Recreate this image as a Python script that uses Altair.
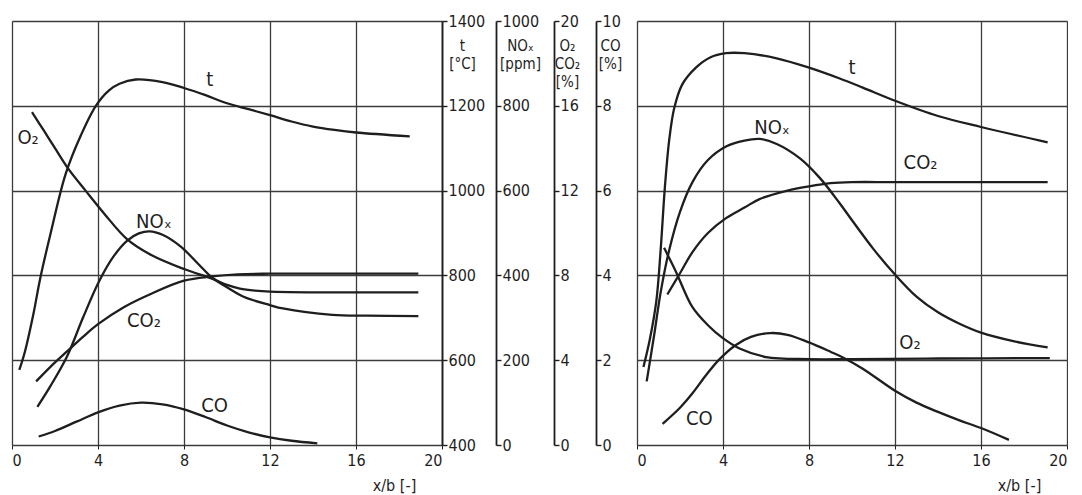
import altair as alt
import pandas as pd

# ---------------- data ----------------
# left panel
L_T_X = [0.34, 0.6, 1.0, 1.3, 1.8, 2.5, 3.2, 3.9, 4.5, 5.0, 5.75, 7.0, 8.0, 9.0, 10.0, 11.0, 12.0, 13.0, 14.0, 15.0, 16.0, 18.5]
L_T = [577, 620, 710, 790, 900, 1040, 1130, 1200, 1236, 1252, 1262, 1256, 1242, 1225, 1206, 1192, 1178, 1163, 1151, 1143, 1137, 1128]

L_O2_X = [0.93, 1.5, 2.0, 2.64, 3.42, 4.3, 5.36, 6.5, 8.0, 9.3, 10.0, 10.6, 11.3, 12.0, 14.0, 16.0, 18.9]
L_O2 = [15.7, 14.8, 14.0, 13.0, 12.0, 10.9, 9.7, 8.95, 8.3, 7.85, 7.55, 7.38, 7.28, 7.23, 7.2, 7.2, 7.2]

L_NOX_X = [1.18, 1.8, 2.57, 3.3, 4.04, 4.7, 5.36, 5.9, 6.4, 7.0, 7.85, 8.7, 9.3, 10.0, 10.8, 12.0, 12.6, 14.9, 16.5, 18.9]
L_NOX = [90, 140, 210, 300, 385, 443, 482, 499, 504, 496, 468, 425, 395, 372, 349, 330, 322, 307, 305, 304]

L_CO2_X = [1.12, 1.8, 2.6, 3.3, 4.0, 5.2, 6.4, 8.0, 9.3, 10.5, 12.0, 18.9]
L_CO2 = [3.0, 3.7, 4.45, 5.1, 5.7, 6.5, 7.1, 7.75, 7.95, 8.05, 8.08, 8.08]

L_CO_X = [1.24, 2.0, 3.0, 4.0, 5.0, 6.0, 7.0, 8.0, 9.0, 10.0, 11.0, 12.0, 13.0, 14.2]
L_CO = [0.2, 0.33, 0.55, 0.77, 0.93, 1.0, 0.96, 0.84, 0.66, 0.46, 0.3, 0.18, 0.1, 0.04]

# right panel
R_T_X = [0.3, 0.6, 0.9, 1.1, 1.3, 1.5, 1.73, 2.1, 2.74, 3.4, 4.14, 5.0, 6.5, 8.0, 9.4, 10.5, 12.0, 14.0, 16.0, 19.1]
R_T = [584, 650, 740, 860, 1010, 1120, 1194, 1250, 1290, 1314, 1324, 1324, 1312, 1290, 1265, 1243, 1212, 1176, 1150, 1114]

R_NOX_X = [0.45, 0.8, 1.1, 1.48, 2.0, 2.58, 3.3, 4.14, 5.0, 5.7, 6.5, 7.58, 8.5, 9.4, 10.0, 11.0, 12.0, 13.0, 14.0, 15.0, 16.0, 17.5, 19.1]
R_NOX = [150, 260, 360, 456, 550, 620, 672, 704, 718, 722, 710, 676, 630, 572, 530, 462, 402, 350, 313, 286, 265, 245, 230]

R_CO2_X = [1.41, 2.0, 2.58, 3.3, 4.14, 5.0, 5.7, 7.0, 8.0, 9.0, 10.0, 12.0, 19.1]
R_CO2 = [7.1, 8.1, 9.1, 10.0, 10.7, 11.2, 11.6, 12.0, 12.2, 12.35, 12.4, 12.4, 12.4]

R_O2_X = [1.26, 1.8, 2.58, 3.3, 3.98, 4.77, 6.0, 8.0, 10.0, 14.0, 19.2]
R_O2 = [9.3, 8.2, 6.5, 5.65, 5.05, 4.55, 4.15, 4.05, 4.05, 4.08, 4.1]

R_CO_X = [1.19, 2.0, 2.58, 3.2, 3.83, 4.6, 5.3, 6.2, 7.0, 8.0, 9.0, 9.6, 10.5, 12.0, 13.0, 14.0, 15.0, 16.0, 17.3]
R_CO = [0.5, 0.88, 1.22, 1.64, 2.02, 2.36, 2.55, 2.64, 2.6, 2.42, 2.2, 2.06, 1.8, 1.28, 1.0, 0.78, 0.58, 0.4, 0.12]

# tick values
X_TICKS = [0, 4, 8, 12, 16, 20]
T_TICKS = [400, 600, 800, 1000, 1200, 1400]
NOX_TICKS = [0, 200, 400, 600, 800, 1000]
GAS_TICKS = [0, 4, 8, 12, 16, 20]
CO_TICKS = [0, 2, 4, 6, 8, 10]

# ---------------- style ----------------
FONT = "DejaVu Sans Condensed"
INK = "#1e1e1e"
GRID = "#3c3c3c"
W, H = 430, 424

T_DOM, NOX_DOM, GAS_DOM, CO_DOM = [400, 1400], [0, 1000], [0, 20], [0, 10]


def xenc():
    return alt.X(
        "x:Q",
        scale=alt.Scale(domain=[0, 20], nice=False, zero=False),
        axis=alt.Axis(
            values=X_TICKS, grid=True, gridColor=GRID, gridWidth=1.3,
            tickSize=4, tickColor=INK, domain=False,
            labelFont=FONT, labelFontSize=16, labelColor=INK, labelPadding=3,
            title="x/b [-]", titleFont=FONT, titleFontSize=16,
            titleFontWeight="normal", titleColor=INK,
            titleX=382, titleAlign="center", titlePadding=9,
        ),
    )


def raxis(values, offset, title, tx, grid=False):
    return alt.Axis(
        orient="right", offset=offset, values=values, format="d",
        grid=grid, gridColor=GRID, gridWidth=1.3,
        tickSize=5, tickColor=INK, tickWidth=1.4,
        domainColor=INK, domainWidth=1.8,
        labelFont=FONT, labelFontSize=16, labelColor=INK, labelPadding=1,
        title=title, titleAngle=0, titleX=tx, titleY=17,
        titleAlign="center", titleBaseline="top",
        titleFont=FONT, titleFontSize=15, titleFontWeight="normal",
        titleColor=INK, titleLineHeight=18,
    )


def series(xs, vs, domain, axis, label, lx, ly, align="left"):
    df = pd.DataFrame({"x": xs, "v": vs})
    y = alt.Y("v:Q", scale=alt.Scale(domain=domain, nice=False, zero=False), axis=axis)
    line = alt.Chart(df).mark_line(
        color=INK, strokeWidth=2.3, interpolate="catmull-rom"
    ).encode(x=xenc(), y=y)
    lab = alt.Chart(pd.DataFrame({"x": [lx], "v": [ly], "s": [label]})).mark_text(
        font=FONT, fontSize=20, color=INK, align=align, baseline="middle"
    ).encode(x=xenc(), y=y, text="s:N")
    return alt.layer(line, lab)


left = alt.layer(
    series(L_T_X, L_T, T_DOM, raxis(T_TICKS, 0, ["t", "[°C]"], 20, grid=True), "t", 9.2, 1262, "center"),
    series(L_NOX_X, L_NOX, NOX_DOM, raxis(NOX_TICKS, 54, ["NOₓ", "[ppm]"], 24), "NOₓ", 5.77, 527),
    series(L_O2_X, L_O2, GAS_DOM, raxis(GAS_TICKS, 112, ["O₂", "CO₂", "[%]"], 13), "O₂", 0.25, 14.5),
    series(L_CO2_X, L_CO2, GAS_DOM, None, "CO₂", 5.35, 5.85),
    series(L_CO_X, L_CO, CO_DOM, raxis(CO_TICKS, 154, ["CO", "[%]"], 14), "CO", 8.8, 0.92),
).resolve_scale(y="independent").properties(width=W, height=H)

grid_axis = alt.Axis(values=CO_TICKS, grid=True, gridColor=GRID, gridWidth=1.3,
                     labels=False, ticks=False, domain=False, title=None)

right = alt.layer(
    series(R_CO_X, R_CO, CO_DOM, grid_axis, "CO", 2.28, 0.62),
    series(R_T_X, R_T, T_DOM, None, "t", 10.0, 1289, "center"),
    series(R_NOX_X, R_NOX, NOX_DOM, None, "NOₓ", 5.45, 747),
    series(R_CO2_X, R_CO2, GAS_DOM, None, "CO₂", 12.4, 13.3),
    series(R_O2_X, R_O2, GAS_DOM, None, "O₂", 12.2, 4.8),
).resolve_scale(y="independent").properties(width=W, height=H)

chart = alt.hconcat(left, right, spacing=13).properties(
    padding={"left": 3, "top": 4, "right": 0, "bottom": 0}
).configure_view(stroke=INK, strokeWidth=1.6).configure(background="white")

chart.save("out.html", embed_options={"renderer": "svg", "actions": False})
